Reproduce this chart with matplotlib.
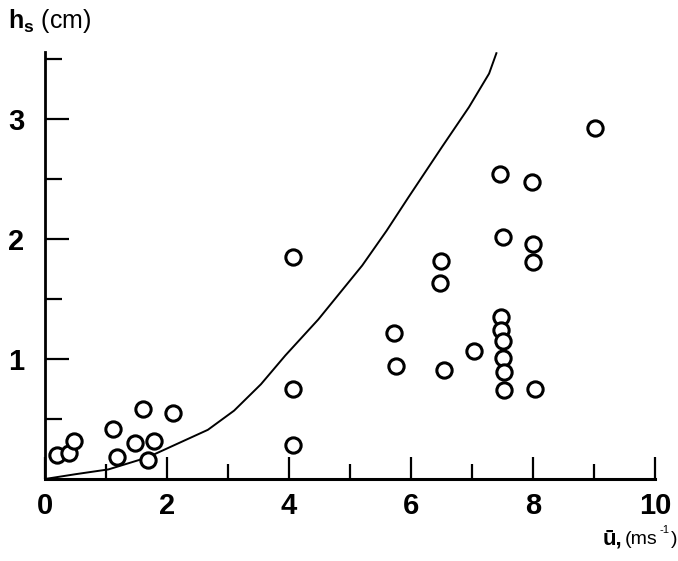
import matplotlib.pyplot as plt
import numpy as np

plt.rcParams['font.family'] = ['Liberation Sans', 'DejaVu Sans']
plt.rcParams['mathtext.fontset'] = 'custom'
plt.rcParams['mathtext.rm'] = 'Liberation Sans'
plt.rcParams['mathtext.bf'] = 'Liberation Sans:bold'
plt.rcParams['mathtext.it'] = 'Liberation Sans:italic'

# observed points: wind speed (m/s) vs height (cm)
u_obs = [0.20, 0.40, 0.48, 1.12, 1.18, 1.48, 1.60, 1.78, 1.69, 2.10,
         4.07, 4.07, 4.07,
         5.72, 5.75, 6.49, 6.48, 6.54, 7.03,
         7.46, 7.51, 7.48, 7.48, 7.51, 7.51, 7.53, 7.53,
         7.99, 8.00, 8.00, 8.04, 9.01]
h_obs = [0.20, 0.22, 0.32, 0.42, 0.18, 0.30, 0.58, 0.32, 0.16, 0.55,
         1.85, 0.75, 0.28,
         1.22, 0.94, 1.82, 1.63, 0.91, 1.07,
         2.54, 2.02, 1.35, 1.24, 1.15, 1.01, 0.89, 0.74,
         2.48, 1.96, 1.81, 0.75, 2.93]

# model curve
u_curve = [0, 0.5, 1.04, 1.68, 2.11, 2.67, 3.1, 3.54, 3.94, 4.48, 4.88,
           5.2, 5.6, 5.96, 6.51, 6.95, 7.28, 7.40]
h_curve = [0, 0.04, 0.08, 0.18, 0.28, 0.41, 0.57, 0.79, 1.03, 1.33, 1.58,
           1.78, 2.07, 2.35, 2.77, 3.10, 3.38, 3.55]

W, H = 678, 561
fig = plt.figure(figsize=(W / 100, H / 100), dpi=100)
ax = fig.add_axes([45 / W, (H - 479) / H, 610 / W, 427 / H])

ax.plot(u_curve, h_curve, color='black', lw=1.4)
ax.plot(u_obs, h_obs, 'o', ms=11, mfc='white', mec='black', mew=2.2, ls='none')

ax.set_xlim(0, 10)
ax.set_ylim(0, 3.56)
for s in ['top', 'right']:
    ax.spines[s].set_visible(False)
ax.spines['bottom'].set_linewidth(2.2)
ax.spines['left'].set_linewidth(2.0)

ax.set_xticks([0, 2, 4, 6, 8, 10])
ax.set_xticks([1, 3, 5, 7, 9], minor=True)
ax.set_yticks([1, 2, 3])
ax.set_yticks([0.5, 1.5, 2.5, 3.5], minor=True)
ax.set_xticklabels(['0', '2', '4', '6', '8', '10'])
ax.set_yticklabels(['1', '2', '3'])

ax.tick_params(axis='x', which='major', direction='in', length=16, width=1.6,
               pad=9, labelsize=21)
ax.tick_params(axis='x', which='minor', direction='in', length=11, width=1.6)
ax.tick_params(axis='y', which='major', direction='in', length=17, width=1.6,
               pad=15, labelsize=21)
ax.tick_params(axis='y', which='minor', direction='in', length=12, width=1.6)
for lbl in ax.get_xticklabels() + ax.get_yticklabels():
    lbl.set_fontweight('bold')

# axis titles
fig.text(8 / W, 1 - 28 / H, r'$\mathbf{h}_{\mathbf{s}}$ (cm)', fontsize=18,
         ha='left', va='baseline')
fig.text(603 / W, 1 - 544 / H, '\u016b,', fontsize=16, fontweight='bold',
         ha='left', va='baseline')
fig.text(625 / W, 1 - 544 / H, '(ms', fontsize=14, ha='left', va='baseline')
fig.text(660 / W, 1 - 533 / H, '-1', fontsize=8, ha='left', va='baseline')
fig.text(677 / W, 1 - 544 / H, ')', fontsize=14, ha='right', va='baseline')

fig.savefig('out.png', dpi=100)
